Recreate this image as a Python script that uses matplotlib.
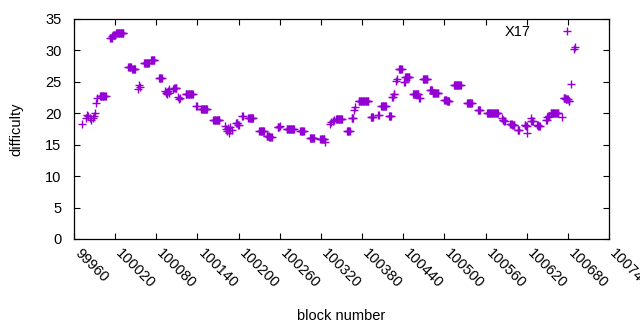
import numpy as np
import matplotlib
matplotlib.use("Agg")
import matplotlib.pyplot as plt
from matplotlib.transforms import ScaledTranslation

plt.rcParams['font.family'] = ['Liberation Sans', 'DejaVu Sans']

# difficulty per block, run-length encoded: first block, number of blocks, value
seg_start = [99972, 99977, 99979, 99981, 99983, 99985, 99987, 99989, 99990, 99992,
             99994, 99998, 100013, 100016, 100017, 100021, 100039, 100045, 100053, 100055,
             100056, 100062, 100072, 100084, 100093, 100094, 100095, 100096, 100097, 100098,
             100099, 100104, 100106, 100112, 100113, 100115, 100123, 100138, 100145, 100163,
             100180, 100181, 100183, 100184, 100186, 100187, 100188, 100190, 100196, 100199,
             100205, 100214, 100230, 100241, 100245, 100257, 100260, 100270, 100290, 100304,
             100319, 100326, 100333, 100335, 100337, 100339, 100342, 100358, 100365, 100368,
             100370, 100375, 100393, 100403, 100408, 100419, 100424, 100426, 100429, 100431,
             100434, 100441, 100443, 100454, 100463, 100469, 100479, 100483, 100500, 100504,
             100514, 100533, 100549, 100562, 100584, 100585, 100587, 100596, 100599, 100607,
             100617, 100619, 100620, 100626, 100627, 100635, 100637, 100648, 100650, 100652,
             100655, 100671, 100674, 100677, 100681, 100685, 100689, 100690]
seg_count = [1, 1, 1, 1, 1, 1, 1, 1, 1, 1,
             1, 9, 3, 1, 4, 12, 5, 5, 1, 1,
             1, 8, 6, 5, 1, 1, 1, 1, 1, 1,
             1, 1, 4, 1, 1, 1, 11, 2, 10, 10,
             1, 1, 1, 1, 1, 1, 1, 1, 3, 2,
             2, 8, 8, 4, 4, 3, 1, 12, 6, 7,
             7, 1, 1, 1, 1, 1, 10, 5, 3, 1,
             1, 15, 4, 2, 8, 4, 2, 2, 1, 1,
             5, 2, 7, 9, 2, 7, 4, 9, 4, 4,
             11, 8, 4, 17, 1, 2, 2, 3, 4, 3,
             2, 2, 1, 1, 3, 2, 3, 2, 2, 2,
             12, 1, 3, 4, 2, 1, 1, 1]
seg_difficulty = [18.3, 19.2, 19.8, 19.6, 19.3, 19.0, 19.3, 19.5, 20.0, 21.7,
                  22.4, 22.8, 32.0, 32.3, 32.5, 32.7, 27.3, 27.0, 23.9, 24.5,
                  24.2, 28.0, 28.5, 25.6, 23.6, 23.2, 23.4, 23.1, 23.5, 23.3,
                  23.8, 23.8, 24.0, 22.6, 22.2, 22.5, 23.0, 21.2, 20.7, 19.0,
                  17.9, 17.5, 17.2, 17.7, 16.9, 17.4, 17.8, 17.3, 18.4, 18.2,
                  19.6, 19.2, 17.2, 16.4, 16.2, 17.8, 18.0, 17.5, 17.2, 16.1,
                  15.9, 15.4, 18.3, 18.6, 18.8, 18.9, 19.1, 17.2, 19.2, 20.5,
                  21.0, 21.9, 19.4, 19.8, 21.1, 19.6, 22.6, 23.0, 25.2, 25.5,
                  27.0, 24.9, 25.8, 23.1, 22.5, 25.4, 23.7, 23.3, 22.1, 21.9,
                  24.5, 21.6, 20.5, 20.0, 19.3, 19.0, 18.8, 18.3, 18.1, 17.3,
                  18.1, 17.9, 16.9, 19.3, 18.8, 18.2, 18.0, 19.0, 19.4, 19.6,
                  20.1, 19.4, 22.5, 22.2, 22.0, 24.6, 30.2, 30.5]

x_ticks = list(range(99960, 100741, 60))
y_ticks = list(range(0, 36, 5))

blocks = np.concatenate([np.arange(s, s + n) for s, n in zip(seg_start, seg_count)])
diffs = np.repeat(seg_difficulty, seg_count)

fig = plt.figure(figsize=(6.4, 3.3), dpi=100)
ax = fig.add_axes([74 / 640, 91 / 330, 535 / 640, 220 / 330])

ax.plot(blocks, diffs, linestyle='none', marker='+', color='#9400D3',
        markersize=5.2, markeredgewidth=1.0, label='X17')

ax.set_xlim(99960, 100740)
ax.set_ylim(0, 35)
ax.set_xticks(x_ticks)
ax.set_yticks(y_ticks)
ax.set_xticklabels([str(t) for t in x_ticks], rotation=-45, ha='left', va='center',
                   rotation_mode='anchor')
ax.tick_params(direction='in', length=4, width=0.8, top=True, right=True,
               labelsize=10.5)
ax.tick_params(axis='x', pad=9)
ax.tick_params(axis='y', pad=9)
# gnuplot puts rotated labels a little right of the tick
shift = ScaledTranslation(2 / 72, 0, fig.dpi_scale_trans)
for lab in ax.get_xticklabels():
    lab.set_transform(lab.get_transform() + shift)
for sp in ax.spines.values():
    sp.set_linewidth(0.9)

ax.set_xlabel('block number', fontsize=10.5)
ax.set_ylabel('difficulty', fontsize=10.5)
ax.xaxis.set_label_coords(0.5, -0.318)
ax.yaxis.set_label_coords(-0.095, 0.5)

ax.legend(loc='upper right', bbox_to_anchor=(0.96, 1.0), markerfirst=False,
          frameon=False, fontsize=10.5, handlelength=2, handletextpad=1.5,
          borderaxespad=0)

fig.savefig('out.png', dpi=100)
